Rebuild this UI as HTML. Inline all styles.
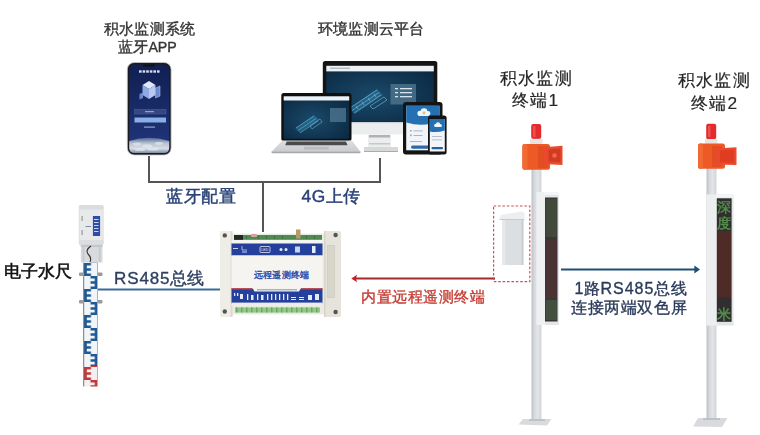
<!DOCTYPE html>
<html><head><meta charset="utf-8">
<style>
html,body{margin:0;padding:0;background:#fff;}
body{width:760px;height:435px;overflow:hidden;font-family:"Liberation Sans",sans-serif;}
svg{display:block;filter:blur(0.3px);}
text{font-family:"Liberation Sans",sans-serif;}
.m{stroke-width:0.35px;paint-order:stroke;}
</style></head><body>
<svg width="760" height="435" viewBox="0 0 760 435">
<defs>
  <linearGradient id="scr" x1="0" y1="0" x2="0" y2="1">
    <stop offset="0" stop-color="#111f52"/><stop offset="0.6" stop-color="#1a2d6c"/><stop offset="1" stop-color="#22367a"/>
  </linearGradient>
  <linearGradient id="earth" x1="0" y1="0" x2="0" y2="1">
    <stop offset="0" stop-color="#4a6494"/><stop offset="0.35" stop-color="#b8c2d0"/><stop offset="0.7" stop-color="#d9dde4"/><stop offset="1" stop-color="#7d8ca3"/>
  </linearGradient>
  <radialGradient id="mon" cx="0.45" cy="0.55" r="0.7">
    <stop offset="0" stop-color="#1b4a6a"/><stop offset="1" stop-color="#0a2842"/>
  </radialGradient>
  <linearGradient id="pole" x1="0" y1="0" x2="1" y2="0">
    <stop offset="0" stop-color="#bcc0c6"/><stop offset="0.3" stop-color="#d6d9dd"/><stop offset="0.6" stop-color="#e2e4e7"/><stop offset="1" stop-color="#d2d5d9"/>
  </linearGradient>
  <linearGradient id="silver" x1="0" y1="0" x2="0" y2="1">
    <stop offset="0" stop-color="#dedfe1"/><stop offset="1" stop-color="#c9cbce"/>
  </linearGradient>
</defs>

<!-- connector lines -->
<g stroke="#555" stroke-width="2" fill="none">
  <path d="M149 156 V182 H380 V158"/>
  <path d="M263 182 V232"/>
</g>
<path d="M98 289.5 H222" stroke="#3a6a9a" stroke-width="2"/>
<path d="M495 278.5 H355" stroke="#a02a2c" stroke-width="2"/>
<path d="M351.3 278.5 L357 274.8 L356 278.5 L357 282.2 Z" fill="#c42024"/>
<path d="M561 269.6 H695" stroke="#1f4f74" stroke-width="2"/>
<path d="M700 269.6 L694.4 265.6 L694.4 273.6 Z" fill="#1f4f74"/>

<!-- labels -->
<g font-size="14.8" fill="#333" stroke="#333" class="m" letter-spacing="0.2">
  <text x="104" y="34">积水监测系统</text>
  <text x="118" y="51.5">蓝牙<tspan font-size="14.2" letter-spacing="0">APP</tspan></text>
  <text x="318" y="33.5">环境监测云平台</text>
</g>
<g font-size="17.3" fill="#272727" stroke="#272727" class="m" style="stroke-width:0.2px" letter-spacing="1.2">
  <text x="500" y="84">积水监测</text>
  <text x="512" y="106">终端1</text>
  <text x="678" y="86">积水监测</text>
  <text x="691" y="108.5">终端2</text>
</g>
<g font-size="17.3" fill="#2a4275" stroke="#2a4275" class="m" style="stroke-width:0.45px" letter-spacing="0.6">
  <text x="166" y="202">蓝牙配置</text>
  <text x="301.5" y="202">4G上传</text>
</g>
<text x="4" y="277" font-size="17" fill="#111" stroke="#111" class="m" style="stroke-width:0.55px">电子水尺</text>
<text x="114" y="284" font-size="17" fill="#2d3e5e" stroke="#2d3e5e" class="m"><tspan letter-spacing="0.9">RS485</tspan>总线</text>
<text x="361" y="302" font-size="15.2" letter-spacing="0.55" fill="#c43c32" stroke="#c43c32" class="m">内置远程遥测终端</text>
<g font-size="16" fill="#2a3a5a" stroke="#2a3a5a" class="m">
  <text x="574.5" y="294" letter-spacing="0.5">1路<tspan letter-spacing="1">RS485</tspan>总线</text>
  <text x="571" y="313" letter-spacing="0.6">连接两端双色屏</text>
</g>

<!-- phone (app) -->
<rect x="127.3" y="62.5" width="43.8" height="92.5" rx="7" fill="#1b1b1f" stroke="#c7cacf" stroke-width="0.8"/>
<rect x="129.2" y="64.4" width="40" height="88.7" rx="5.5" fill="url(#scr)"/>
<rect x="143" y="64.4" width="12" height="2.2" rx="1" fill="#111"/>
<path d="M129.2 141 Q149 134.5 169.2 141 V147.6 Q169.2 153.1 163.7 153.1 H134.7 Q129.2 153.1 129.2 147.6 Z" fill="url(#earth)"/>
<g fill="#e4e8f0" opacity="0.7"><ellipse cx="137" cy="144" rx="4" ry="1.5"/><ellipse cx="147" cy="146" rx="5" ry="1.8"/><ellipse cx="159" cy="143.5" rx="4" ry="1.4"/><ellipse cx="153" cy="149" rx="6" ry="1.6"/><ellipse cx="140" cy="149.5" rx="5" ry="1.5"/></g>
<g fill="#d6def2"><rect x="139" y="70.3" width="2.6" height="2.4"/><rect x="142.6" y="70.3" width="2.6" height="2.4"/><rect x="146.2" y="70.3" width="2.6" height="2.4"/><rect x="149.8" y="70.3" width="2.6" height="2.4"/><rect x="153.4" y="70.3" width="2.6" height="2.4"/><rect x="157" y="70.3" width="2.6" height="2.4"/></g>
<path d="M142.5 85 L149 81 L155.5 85 L149 89 Z" fill="#dfe8fb"/>
<path d="M142.5 85 L149 89 L149 99 L142.5 95 Z" fill="#8fa9e2"/>
<path d="M149 89 L155.5 85 L155.5 95 L149 99 Z" fill="#b7c9f0"/>
<path d="M155.5 88 L160 86 L160 96 L155.5 98 Z" fill="#6c88cf" stroke="#c2d2f4" stroke-width="0.5"/>
<path d="M139.5 94 L143 92.5 L143 98 L139.5 99.5 Z" fill="#6c88cf"/>
<rect x="134.5" y="109.5" width="31.5" height="4.5" fill="#34477f" stroke="#4f65a3" stroke-width="0.5"/>
<rect x="145" y="111.2" width="9" height="1" fill="#a9b6dc"/>
<rect x="134.5" y="117.5" width="31.5" height="5" fill="#8aaee6"/>
<rect x="144" y="126.5" width="11" height="1.2" fill="#8fa3d0"/>

<!-- monitor -->
<rect x="322.8" y="61" width="114.5" height="62" rx="2.5" fill="#141414"/>
<rect x="326.3" y="65.8" width="107.5" height="56" fill="url(#mon)"/>
<rect x="326.3" y="65.8" width="107.5" height="5.6" fill="#eef1f3"/>
<rect x="330" y="67.7" width="20" height="1" fill="#9aa4ad"/>
<rect x="390.5" y="84" width="25.5" height="20.5" fill="#527a92" opacity="0.75"/>
<g fill="#d8e4ec"><rect x="395" y="88" width="3" height="1.3"/><rect x="400" y="88" width="12" height="1.3"/><rect x="395" y="92" width="3" height="1.3"/><rect x="400" y="92" width="12" height="1.3"/><rect x="395" y="96" width="3" height="1.3"/><rect x="400" y="96" width="12" height="1.3"/></g>
<path d="M349 108 L377 89 L383 95 L355 114 Z" fill="#2f86b0" opacity="0.45"/>
<g stroke="#8fd8f2" stroke-width="0.6" opacity="0.85" fill="none">
<path d="M350 108 L377 90"/><path d="M352 110.5 L379 92.5"/><path d="M354 113 L381 95"/>
<path d="M356 106 L358 109 M362 102 L364 105 M368 98 L370 101 M374 94 L376 97"/>
<path d="M370 106 L384 97 L387 100 L373 109 Z"/>
</g>
<rect x="322.8" y="122" width="114.5" height="12.5" fill="#ecedee"/>
<rect x="322.8" y="122" width="114.5" height="1.2" fill="#cfd1d4"/>
<rect x="368" y="134.5" width="23" height="12.5" fill="#eceded"/>
<rect x="369" y="135" width="21" height="2.5" fill="#b0b2b5"/>
<rect x="369" y="143" width="21" height="1.5" fill="#c6c8cb"/>
<rect x="364" y="147" width="34" height="5" fill="#d6d8da"/>
<rect x="364" y="151" width="34" height="1" fill="#a9abae"/>

<!-- laptop -->
<rect x="281.3" y="93" width="70.2" height="48" rx="2.5" fill="#0f0f10"/>
<rect x="283.7" y="96.3" width="65.5" height="42.5" fill="url(#mon)"/>
<rect x="283.7" y="96.3" width="65.5" height="4.2" fill="#eef1f3"/>
<rect x="330" y="108" width="16" height="14" fill="#527a92" opacity="0.75"/>
<path d="M295 128 L314 115 L319 120 L300 133 Z" fill="#2f86b0" opacity="0.45"/>
<g stroke="#8fd8f2" stroke-width="0.5" opacity="0.85" fill="none">
<path d="M296 128 L314 116"/><path d="M298 130.5 L316 118.5"/><path d="M300 133 L318 121"/>
<path d="M310 126 L320 119 L322 122 L312 129 Z"/>
</g>
<path d="M282.4 140.6 H351.8 L360.5 151.8 H271.5 Z" fill="url(#silver)"/>
<path d="M286.7 141.4 H346 L347.5 145.3 H285.2 Z" fill="#4a4b4e"/>
<rect x="304" y="146.8" width="24.7" height="2.8" fill="#b9bbbe"/>
<path d="M271.5 151.6 H360.5 Q361 153.3 359 153.3 H273 Q271 153.3 271.5 151.6 Z" fill="#a6a8ab"/>

<!-- tablet -->
<rect x="403" y="102" width="39.5" height="52.5" rx="3" fill="#141414"/>
<rect x="406.2" y="105.8" width="33.2" height="44.5" fill="#f1f4f8"/>
<path d="M406.2 105.8 H439.4 V121 Q424 127.5 406.2 122.5 Z" fill="#2470b2"/>
<g fill="#eef5fb"><circle cx="420" cy="113.3" r="2.6"/><circle cx="424" cy="111.6" r="3.4"/><circle cx="428" cy="113.5" r="2.4"/><rect x="418" y="113" width="11" height="3" rx="1.5"/></g>
<circle cx="424" cy="113" r="1.4" fill="#f0c060"/>
<g fill="#9aa6b5"><rect x="410" y="130" width="1.6" height="1.6"/><rect x="413.5" y="130.5" width="9" height="0.8"/><rect x="410" y="134.5" width="1.6" height="1.6"/><rect x="413.5" y="135" width="9" height="0.8"/><rect x="410" y="141" width="12" height="0.8"/></g>
<rect x="411" y="145.5" width="26" height="3.2" rx="1.6" fill="#2a6aa8"/>
<!-- small phone -->
<rect x="428" y="115.5" width="18.6" height="39" rx="2.5" fill="#141414"/>
<rect x="429.8" y="119" width="15" height="32.5" fill="#f1f4f8"/>
<path d="M429.8 119 H444.8 V130.5 Q437 133 429.8 131.5 Z" fill="#2470b2"/>
<g fill="#eef5fb"><circle cx="435.8" cy="125.3" r="1.6"/><circle cx="438" cy="124.3" r="2.1"/><circle cx="440.3" cy="125.5" r="1.5"/><rect x="434.5" y="125.2" width="7" height="1.8" rx="0.9"/></g>
<g fill="#a8b2c0"><rect x="432" y="136" width="10" height="0.8"/><rect x="432" y="139.5" width="10" height="0.8"/></g>
<rect x="431.5" y="147" width="11.5" height="2.2" rx="1" fill="#2a5f96"/>

<!-- central device -->
<g id="dev">
  <rect x="220" y="233.5" width="121" height="81" fill="#ecebe3"/>
  <rect x="220" y="231" width="12.5" height="86" rx="1.5" fill="#eeede6"/>
  <rect x="230.5" y="231" width="2" height="86" fill="#dcdad0"/>
  <rect x="324" y="231" width="17" height="86" rx="1.5" fill="#e6e4da"/>
  <rect x="324" y="231" width="1.5" height="86" fill="#d6d4c8"/>
  <rect x="327.5" y="245.5" width="7" height="52" fill="#d8d6ca" stroke="#c9c6b8" stroke-width="0.6"/>
  <circle cx="224.8" cy="235.4" r="2.2" fill="#555"/>
  <circle cx="335.6" cy="235" r="2.2" fill="#555"/>
  <circle cx="224.8" cy="311.5" r="2.2" fill="#555"/>
  <circle cx="335.6" cy="312" r="2.2" fill="#555"/>
  <rect x="234" y="235" width="88" height="4.8" fill="#4f8a52"/>
  <rect x="234" y="235" width="9" height="4.8" fill="#1e2a22"/>
  <rect x="251" y="234" width="6" height="3" rx="1" fill="#d9a0a0"/>
  <g fill="#3f7043"><rect x="246" y="236" width="1" height="3"/><rect x="258" y="236" width="1" height="3"/><rect x="266" y="236" width="1" height="3"/><rect x="274" y="236" width="1" height="3"/><rect x="282" y="236" width="1" height="3"/><rect x="306" y="236" width="1" height="3"/><rect x="314" y="236" width="1" height="3"/></g>
  <rect x="296" y="229.5" width="4.5" height="9" fill="#b89a6a"/>
  <rect x="231.5" y="240" width="91" height="3.5" fill="#f4f4f0"/>
  <rect x="231.5" y="243.5" width="91" height="12" fill="#24409c"/>
  <rect x="260" y="246.5" width="10" height="6" rx="1" fill="none" stroke="#dfe6f5" stroke-width="0.8"/>
  <text x="261.3" y="251.3" font-size="3.6" fill="#e6ecf8">LED</text>
  <rect x="233" y="248" width="5" height="1" fill="#c9d3ee"/>
  <path d="M242 246 V250 H247" stroke="#dfe6f5" stroke-width="0.7" fill="none"/>
  <rect x="242" y="251.5" width="5" height="1" fill="#c9d3ee"/>
  <circle cx="281" cy="249.5" r="1.5" fill="#e6ecf8"/><circle cx="286" cy="249.5" r="1.5" fill="#e6ecf8"/>
  <rect x="295" y="246.5" width="5" height="6" fill="#c9d3ee"/>
  <rect x="312" y="246" width="3.5" height="7" fill="#e6ecf8"/>
  <rect x="231.5" y="255.5" width="91" height="33" fill="#f5f4f1"/>
  <text x="253.5" y="278" font-size="8.8" letter-spacing="0.4" fill="#2a46a8" stroke="#2a46a8" stroke-width="0.35">远程遥测终端</text>
  <rect x="231.5" y="288.6" width="91" height="15" fill="#24409c"/>
  <rect x="231.5" y="288.2" width="21" height="1.4" fill="#c23a3a"/>
  <rect x="301" y="288.2" width="21.5" height="1.4" fill="#c23a3a"/>
  <path d="M252.5 288 H301 L299 291.5 H254.5 Z" fill="#f2f2f0"/>
  <rect x="257" y="289.3" width="40" height="1" fill="#8a93b8"/>
  <g fill="#e4eaf8">
    <rect x="234" y="293" width="1.3" height="3"/><rect x="237" y="293" width="1.3" height="3"/>
    <rect x="240" y="294" width="3" height="5"/>
    <rect x="247" y="294" width="1.3" height="6"/><rect x="251" y="295" width="2.5" height="5"/>
    <rect x="257" y="294" width="1.3" height="6"/><rect x="261" y="295" width="2.5" height="5"/>
    <rect x="267" y="294" width="1.3" height="6"/><rect x="271" y="294" width="1.3" height="6"/>
    <rect x="275" y="294" width="1.3" height="6"/><rect x="279" y="294" width="1.3" height="6"/>
    <rect x="283" y="294" width="1.3" height="6"/><rect x="287" y="294" width="1.3" height="6"/>
    <rect x="291" y="297" width="5" height="1"/><rect x="291" y="299" width="5" height="1"/>
    <rect x="299" y="297" width="5" height="1"/><rect x="299" y="299" width="5" height="1"/>
    <rect x="308" y="295" width="4" height="5"/><rect x="315" y="294" width="4" height="6"/>
  </g>
  <rect x="231.5" y="302.6" width="91" height="3" fill="#eeede8"/>
  <rect x="235" y="307.4" width="85" height="5.2" fill="#92c98a"/>
  <g fill="#6aa866" transform="translate(0,1.4)"><rect x="236" y="306" width="1.5" height="5"/><rect x="241" y="306" width="1.5" height="5"/><rect x="246" y="306" width="1.5" height="5"/><rect x="251" y="306" width="1.5" height="5"/><rect x="256" y="306" width="1.5" height="5"/><rect x="261" y="306" width="1.5" height="5"/><rect x="266" y="306" width="1.5" height="5"/><rect x="271" y="306" width="1.5" height="5"/><rect x="276" y="306" width="1.5" height="5"/><rect x="281" y="306" width="1.5" height="5"/><rect x="286" y="306" width="1.5" height="5"/><rect x="291" y="306" width="1.5" height="5"/><rect x="296" y="306" width="1.5" height="5"/><rect x="301" y="306" width="1.5" height="5"/><rect x="306" y="306" width="1.5" height="5"/><rect x="311" y="306" width="1.5" height="5"/><rect x="316" y="306" width="1.5" height="5"/></g>
</g>

<!-- water ruler -->
<defs>
  <pattern id="eb" x="84" y="263" width="13.5" height="26" patternUnits="userSpaceOnUse">
    <rect width="13.5" height="26" fill="#f2f5f8"/>
    <path d="M0 0 H7 V2.6 H2.8 V5.2 H7 V7.8 H2.8 V10.4 H7 V13 H0 Z" fill="#1f5a96"/>
    <path d="M13.5 13 H6.5 V15.6 H10.7 V18.2 H6.5 V20.8 H10.7 V23.4 H6.5 V26 H13.5 Z" fill="#1f5a96"/>
  </pattern>
  <pattern id="er" x="84" y="263" width="13.5" height="26" patternUnits="userSpaceOnUse">
    <rect width="13.5" height="26" fill="#f4f0f0"/>
    <path d="M0 0 H7 V2.6 H2.8 V5.2 H7 V7.8 H2.8 V10.4 H7 V13 H0 Z" fill="#c0393b"/>
    <path d="M13.5 13 H6.5 V15.6 H10.7 V18.2 H6.5 V20.8 H10.7 V23.4 H6.5 V26 H13.5 Z" fill="#c0393b"/>
  </pattern>
</defs>
<rect x="84" y="262.5" width="13.5" height="103.5" fill="url(#eb)"/>
<rect x="84" y="366" width="13.5" height="20.5" fill="url(#er)"/>
<rect x="83.2" y="262.5" width="1" height="124" fill="#777"/>
<rect x="97.2" y="262.5" width="0.8" height="124" fill="#aaa"/>
<g fill="#9a9a9a">
  <rect x="79" y="272.5" width="5" height="3.5" rx="1"/><rect x="97.5" y="272.5" width="5" height="3.5" rx="1"/>
  <rect x="79" y="300" width="5" height="3.5" rx="1"/><rect x="97.5" y="300" width="5" height="3.5" rx="1"/>
</g>
<rect x="80.8" y="244" width="21.7" height="18.5" fill="#d9dadc"/>
<rect x="80.8" y="244" width="21.7" height="3" fill="#c4c6c9"/>
<rect x="82.5" y="247" width="2" height="15" fill="#c8cacd"/>
<rect x="98.8" y="247" width="2" height="15" fill="#c8cacd"/>
<path d="M91 246 Q85 250 88 254 Q92 258 90 262" stroke="#2e2e2e" stroke-width="1.1" fill="none"/>
<rect x="79.2" y="205.5" width="24" height="39" rx="1" fill="#e8e9eb" stroke="#cfd1d4" stroke-width="0.6"/>
<rect x="79.2" y="205.5" width="24" height="4" fill="#dadcdf"/>
<rect x="79.2" y="240" width="24" height="4.5" fill="#dcdde0"/>
<rect x="92.9" y="216" width="7.2" height="20" fill="#2d4ea6"/>
<g fill="#c9d4f0"><rect x="94" y="219" width="4.5" height="1"/><rect x="94" y="222" width="4.5" height="1"/><rect x="94" y="225" width="4.5" height="1"/><rect x="94" y="228" width="4.5" height="1"/><rect x="94" y="231" width="4.5" height="1"/></g>
<rect x="81.5" y="216" width="1.2" height="5" fill="#999"/><rect x="81.5" y="230" width="1.2" height="5" fill="#999"/>
<rect x="85.5" y="226" width="5.5" height="1" fill="#7a8ab0"/>

<!-- cabinet + dashed box -->
<rect x="502.4" y="218" width="20.8" height="47" fill="#dcdfe2"/>
<rect x="502.4" y="218" width="3" height="47" fill="#e6e8ea"/>
<rect x="521.5" y="216" width="2" height="49" fill="#c9ccd0"/>
<path d="M499.5 219 L500.5 215 L522 211.5 L524.5 213 L524.5 219 Z" fill="#eceef0"/>
<path d="M499.5 219 H524.5 V220 H499.5 Z" fill="#c8cbcf"/>
<rect x="493.6" y="206" width="36.2" height="75.6" fill="none" stroke="#c85555" stroke-width="1.2" stroke-dasharray="2.6 1.8"/>

<!-- pole 1 -->
<g id="pole1">
  <rect x="531.5" y="168" width="10" height="252" fill="url(#pole)"/>
  <path d="M518.5 424.5 L523 419 H551.5 L547 425.5 Z" fill="#d8dadd"/>
  <path d="M529 419 H545 V421 H529 Z" fill="#bfc2c6"/>
  <!-- display -->
  <rect x="536.5" y="192" width="22.5" height="133" fill="#e4e6e9"/>
  <rect x="536.5" y="192" width="8.5" height="133" fill="#eef0f2"/>
  <rect x="544" y="192" width="15" height="3" fill="#f4f5f6"/>
  <rect x="545" y="197.5" width="12.5" height="124" fill="#393636"/>
  <rect x="545.8" y="199" width="11" height="38" fill="#40493a"/>
  <rect x="545.8" y="240" width="11" height="58" fill="#4a3433"/>
  <rect x="545.8" y="300" width="11" height="20" fill="#44503f"/>
  <!-- light -->
  <rect x="531.2" y="124" width="10" height="15" rx="2" fill="#e52a2c"/>
  <rect x="533" y="126" width="2.5" height="11" fill="#f06a6a" opacity="0.6"/>
  <rect x="530" y="138.8" width="12.5" height="5.5" fill="#e9e4e0"/>
  <rect x="522.4" y="144" width="27.6" height="25.7" rx="2.5" fill="#ee5a26"/>
  <rect x="522.4" y="144" width="5" height="25.7" rx="2" fill="#f26a33"/>
  <rect x="538" y="146" width="10" height="22" fill="#e04e22"/>
  <path d="M544 147.2 L562.5 145.8 V165 L544 164 Z" fill="#ea4a2c"/>
  <path d="M548.5 149.5 L560.5 148.6 V162.3 L548.5 161.6 Z" fill="#d23b22"/>
  <circle cx="554.5" cy="155.5" r="2.3" fill="#ee6a4a"/>
</g>

<!-- pole 2 -->
<g id="pole2">
  <rect x="706.5" y="168" width="10" height="252" fill="url(#pole)"/>
  <path d="M693 426.5 L698 418 H727.5 L722 427 Z" fill="#d8dadd"/>
  <path d="M703 418 H720 V420 H703 Z" fill="#bfc2c6"/>
  <rect x="706.5" y="194.5" width="27" height="131" fill="#e2e4e7"/>
  <rect x="706.5" y="194.5" width="10.5" height="131" fill="#eceef0"/>
  <rect x="716" y="194.5" width="17.5" height="3" fill="#f4f5f6"/>
  <rect x="716.8" y="198.3" width="14.8" height="123.5" fill="#2f302d"/>
  <g fill="#5fa356" stroke="#5fa356" stroke-width="0.4" opacity="0.85">
  <text x="717.2" y="212" font-size="14">深</text>
  <text x="717.2" y="227.5" font-size="14">度</text>
  <text x="717.2" y="319" font-size="14">米</text>
  </g>
  <rect x="717.5" y="231" width="13.5" height="66" fill="#4f2b27"/>
  <rect x="706.2" y="123.8" width="10" height="15.5" rx="2" fill="#e52a2c"/>
  <rect x="708" y="126" width="2.5" height="11" fill="#f06a6a" opacity="0.6"/>
  <rect x="705" y="139" width="12.5" height="5" fill="#e9e4e0"/>
  <rect x="698" y="143.5" width="27" height="25.3" rx="2.5" fill="#ee5a26"/>
  <rect x="698" y="143.5" width="5" height="25.3" rx="2" fill="#f26a33"/>
  <rect x="712" y="146" width="10" height="21" fill="#e04e22"/>
  <path d="M716 148.5 L736.5 147.3 V165 L716 164.5 Z" fill="#ea4a2c"/>
  <path d="M720 150.5 L734 149.6 V162.8 L720 162.3 Z" fill="#e03c22"/>
</g>
</svg>
</body></html>
